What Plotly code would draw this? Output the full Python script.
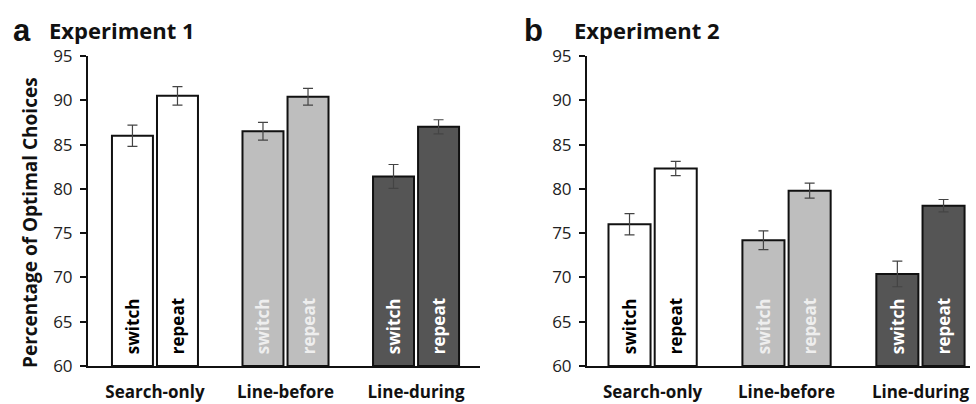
import plotly.graph_objects as go

categories = ["Search-only", "Line-before", "Line-during"]
bar_colors = ["#ffffff", "#bebebe", "#555555"]
text_colors = ["#000000", "#eeeeee", "#ffffff"]

exp1_switch = [86.0, 86.5, 81.4]
exp1_switch_err = [1.2, 1.0, 1.35]
exp1_repeat = [90.5, 90.4, 87.0]
exp1_repeat_err = [1.05, 0.95, 0.8]

exp2_switch = [76.0, 74.2, 70.4]
exp2_switch_err = [1.2, 1.05, 1.45]
exp2_repeat = [82.3, 79.8, 78.1]
exp2_repeat_err = [0.8, 0.85, 0.7]

y_ticks = [60, 65, 70, 75, 80, 85, 90, 95]

FONT = "Open Sans"

fig = go.Figure()


def add_bars(vals, errs, label, xa, ya):
    fig.add_trace(go.Bar(
        x=categories, y=[v - 60 for v in vals], base=60,
        xaxis=xa, yaxis=ya, name=label, showlegend=False,
        marker=dict(color=bar_colors, line=dict(color="#111111", width=2)),
        error_y=dict(type="data", array=errs, color="#444444", thickness=1.2, width=5),
        text=["\u00a0\u00a0" + label] * len(vals), textposition="inside",
        insidetextanchor="start", textangle=-90, cliponaxis=False,
        textfont=dict(family=FONT, size=17, weight="bold", color=text_colors),
        hoverinfo="skip",
    ))


add_bars(exp1_switch, exp1_switch_err, "switch", "x", "y")
add_bars(exp1_repeat, exp1_repeat_err, "repeat", "x", "y")
add_bars(exp2_switch, exp2_switch_err, "switch", "x2", "y2")
add_bars(exp2_repeat, exp2_repeat_err, "repeat", "x2", "y2")

W, H = 976, 404
ydom = [(H - 366) / H, (H - 56) / H]

xcommon = dict(type="category", showline=True, linecolor="#111111", linewidth=2,
               ticks="", showgrid=False, zeroline=False, ticklabelstandoff=10,
               automargin=False,
               tickfont=dict(family=FONT, size=17, weight="bold", color="#111111"))
ycommon = dict(range=[60, 95], tickvals=y_ticks, showline=True, linecolor="#111111",
               linewidth=2, ticks="outside", ticklen=6, tickwidth=2, tickcolor="#111111",
               showgrid=False, zeroline=False, ticklabelstandoff=4, automargin=False,
               tickfont=dict(family=FONT, size=17, color="#222222"))

fig.update_layout(
    width=W, height=H,
    margin=dict(l=0, r=0, t=0, b=0, pad=0),
    paper_bgcolor="white", plot_bgcolor="white",
    barmode="group", bargap=0.31, bargroupgap=0.09,
    xaxis=dict(domain=[88 / W, 480 / W], range=[-0.513, 2.49], anchor="y", **xcommon),
    xaxis2=dict(domain=[587 / W, 970 / W], range=[-0.49, 2.37], anchor="y2", **xcommon),
    yaxis=dict(domain=ydom, anchor="x", **ycommon),
    yaxis2=dict(domain=ydom, anchor="x2", **ycommon),
)

annots = [
    dict(text="a", x=11 / W, y=(H - 31) / H, font=dict(family="Liberation Sans", size=31, weight="bold")),
    dict(text="Experiment 1", x=47 / W, y=(H - 30) / H, font=dict(family=FONT, size=22, weight="bold")),
    dict(text="b", x=522 / W, y=(H - 31) / H, font=dict(family="Liberation Sans", size=31, weight="bold")),
    dict(text="Experiment 2", x=572 / W, y=(H - 30) / H, font=dict(family=FONT, size=22, weight="bold")),
]
for a in annots:
    fig.add_annotation(xref="paper", yref="paper", xanchor="left", yanchor="middle",
                       showarrow=False, text=a["text"], x=a["x"], y=a["y"],
                       font=dict(color="#111111", **a["font"]))

fig.add_annotation(xref="paper", yref="paper", x=30 / W, y=(H - 223) / H,
                   xanchor="center", yanchor="middle", showarrow=False, textangle=-90,
                   text="Percentage of Optimal Choices",
                   font=dict(family=FONT, size=19, weight="bold", color="#111111"))

fig.write_html("out.html", config={"displayModeBar": False},
               post_script="document.body.style.margin='0';document.body.style.overflow='hidden';")
